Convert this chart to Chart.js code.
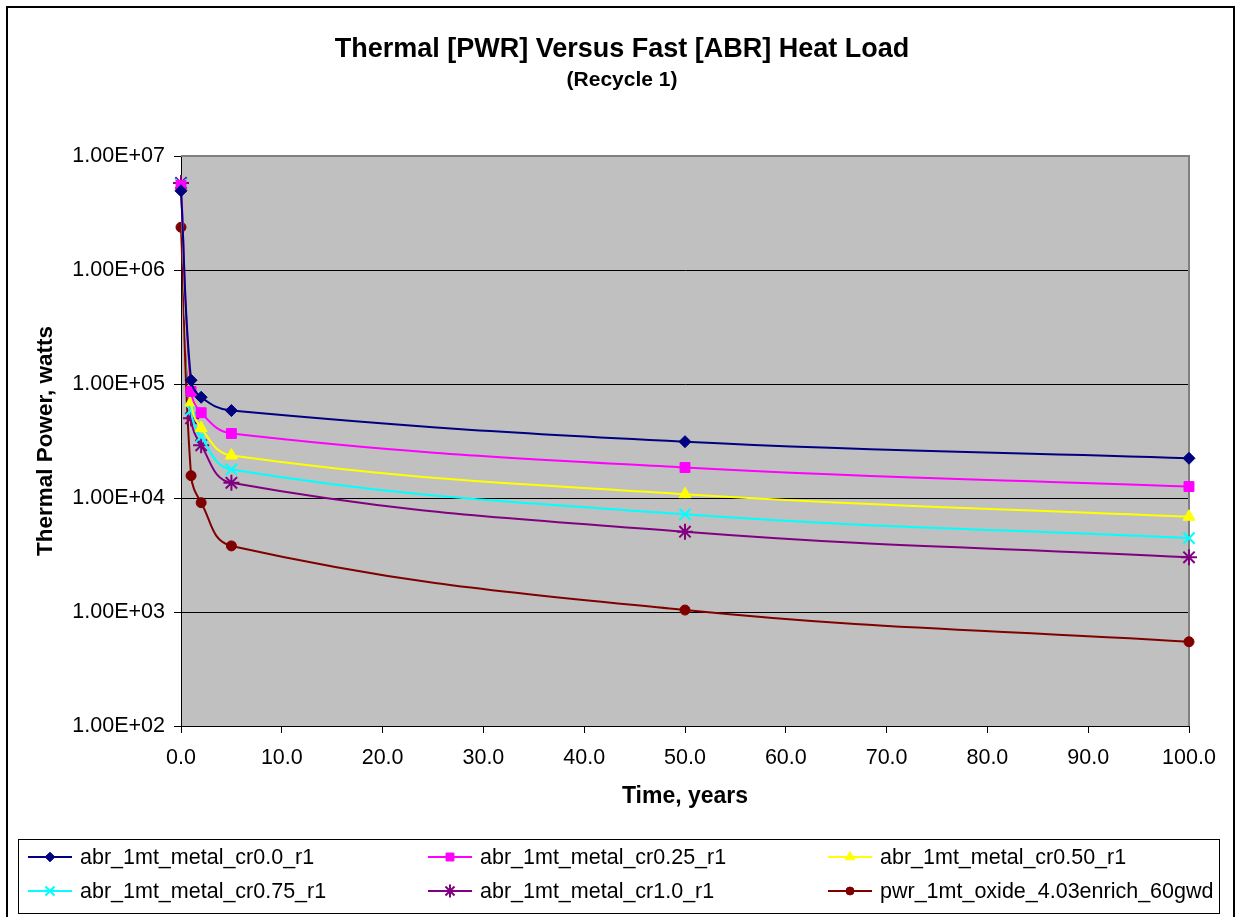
<!DOCTYPE html>
<html><head><meta charset="utf-8">
<script src="https://cdn.jsdelivr.net/npm/chart.js@4.4.1/dist/chart.umd.min.js"></script>
<style>html,body{margin:0;padding:0;background:#fff;overflow:hidden}#wrap{position:relative;width:1236px;height:917px}</style>
</head><body><div id="wrap"><canvas id="c" width="1236" height="917"></canvas></div>
<script>
const FONT = "'Liberation Sans', Arial, sans-serif";
const titleText = 'Thermal [PWR] Versus Fast [ABR] Heat Load';
const subtitleText = '(Recycle 1)';
const xTitle = 'Time, years';
const yTitle = 'Thermal Power, watts';
const years = [0, 1, 2, 5, 50, 100];
const seriesNames = ['abr_1mt_metal_cr0.0_r1', 'abr_1mt_metal_cr0.25_r1', 'abr_1mt_metal_cr0.50_r1',
  'abr_1mt_metal_cr0.75_r1', 'abr_1mt_metal_cr1.0_r1', 'pwr_1mt_oxide_4.03enrich_60gwd'];
const cr00 = [4.95e6, 1.08e5, 7.65e4, 5.85e4, 3.12e4, 2.23e4];
const cr025 = [5.5e6, 8.6e4, 5.6e4, 3.68e4, 1.85e4, 1.26e4];
const cr050 = [5.25e6, 6.9e4, 4.1e4, 2.36e4, 1.08e4, 6.85e3];
const cr075 = [5.6e6, 5.9e4, 3.45e4, 1.78e4, 7.2e3, 4.45e3];
const cr10 = [5.8e6, 5.0e4, 2.9e4, 1.36e4, 5.06e3, 3.02e3];
const pwr = [2.37e6, 1.57e4, 9.1e3, 3.8e3, 1.04e3, 548];
const xTicks = [0, 10, 20, 30, 40, 50, 60, 70, 80, 90, 100];
const yTicks = [1e2, 1e3, 1e4, 1e5, 1e6, 1e7];

const seriesValues = [cr00, cr025, cr050, cr075, cr10, pwr];
const colors = ['#000080', '#FF00FF', '#FFFF00', '#00FFFF', '#800080', '#800000'];
const styles = ['rectRot', 'rect', 'triangle', 'crossRot', 'star', 'circle'];
const radii = [6, 7, 7, 8, 8, 5];

function fmtE(v) {
  const e = Math.round(Math.log10(v));
  return '1.00E' + (e < 0 ? '-' : '+') + String(Math.abs(e)).padStart(2, '0');
}

const datasets = seriesValues.map((arr, i) => ({
  label: seriesNames[i],
  data: years.map((x, j) => ({ x: x, y: arr[j] })),
  borderColor: colors[i],
  backgroundColor: colors[i],
  pointBackgroundColor: colors[i],
  pointBorderColor: colors[i],
  pointStyle: styles[i],
  pointRadius: radii[i],
  pointBorderWidth: (styles[i] === 'crossRot' || styles[i] === 'star') ? 2 : 1,
  borderWidth: 2,
  tension: 0.4,
  fill: false,
  clip: { left: 9, right: 9, top: 9, bottom: 0 }
}));

const framePlugin = {
  id: 'frame',
  beforeDraw(chart) {
    const ctx = chart.ctx, a = chart.chartArea;
    ctx.save();
    ctx.fillStyle = '#fff';
    ctx.fillRect(0, 0, chart.width, chart.height);
    ctx.strokeStyle = '#000';
    ctx.lineWidth = 2;
    ctx.strokeRect(7, 7, 1227, 930);
    ctx.fillStyle = '#C0C0C0';
    ctx.fillRect(a.left, a.top, a.right - a.left, a.bottom - a.top);
    ctx.restore();
  },
  beforeDatasetsDraw(chart) {
    const ctx = chart.ctx, a = chart.chartArea;
    ctx.save();
    ctx.strokeStyle = '#808080';
    ctx.lineWidth = 2;
    ctx.beginPath();
    ctx.moveTo(a.left, a.top);
    ctx.lineTo(a.right, a.top);
    ctx.lineTo(a.right, a.bottom);
    ctx.stroke();
    ctx.restore();
  },
  afterDraw(chart) {
    const ctx = chart.ctx;
    ctx.save();
    ctx.strokeStyle = '#000';
    ctx.lineWidth = 1;
    ctx.strokeRect(18.5, 839.5, 1201, 74);
    const cols = [28, 428, 828], rows = [857, 891];
    chart.data.datasets.forEach((ds, i) => {
      const x = cols[i % 3], y = rows[Math.floor(i / 3)];
      ctx.strokeStyle = ds.borderColor;
      ctx.lineWidth = 2;
      ctx.beginPath();
      ctx.moveTo(x, y);
      ctx.lineTo(x + 44, y);
      ctx.stroke();
      ctx.fillStyle = ds.pointBackgroundColor;
      ctx.strokeStyle = ds.pointBorderColor;
      ctx.lineWidth = ds.pointBorderWidth;
      Chart.helpers.drawPoint(ctx, { pointStyle: ds.pointStyle, radius: ds.pointRadius * 0.8, rotation: 0, borderWidth: ds.pointBorderWidth }, x + 22, y);
      ctx.fillStyle = '#000';
      ctx.font = '21.5px ' + FONT;
      ctx.textBaseline = 'middle';
      ctx.textAlign = 'left';
      ctx.fillText(ds.label, x + 52, y + 1);
    });
    ctx.restore();
  }
};

new Chart(document.getElementById('c'), {
  type: 'line',
  data: { datasets: datasets },
  plugins: [framePlugin],
  options: {
    responsive: false,
    animation: false,
    devicePixelRatio: 1,
    layout: { padding: { left: 55, right: 47, top: 0, bottom: 103 } },
    plugins: {
      legend: { display: false },
      tooltip: { enabled: false },
      title: { display: true, text: titleText, color: '#000', font: { family: FONT, size: 27, weight: 'bold' }, padding: { top: 33.8, bottom: 0 } },
      subtitle: { display: true, text: subtitleText, color: '#000', font: { family: FONT, size: 21, weight: 'bold' }, padding: { top: 1.2, bottom: 63.4 } }
    },
    scales: {
      x: {
        type: 'linear', min: 0, max: 100,
        afterBuildTicks: s => { s.ticks = xTicks.map(v => ({ value: v })); },
        ticks: { callback: v => Number(v).toFixed(1), color: '#000', font: { family: FONT, size: 21.5 }, padding: 12, maxRotation: 0, autoSkip: false },
        grid: { drawOnChartArea: false, drawTicks: true, tickLength: 7, color: '#000', tickColor: '#000' },
        border: { display: true, color: '#000', width: 1 },
        title: { display: true, text: xTitle, color: '#000', font: { family: FONT, size: 23, weight: 'bold' }, padding: { top: 4, bottom: 4 } },
        afterFit: s => { s.height = 88; }
      },
      y: {
        type: 'logarithmic', min: 100, max: 1e7,
        afterBuildTicks: s => { s.ticks = yTicks.map(v => ({ value: v })); },
        ticks: { callback: v => fmtE(v), color: '#000', font: { family: FONT, size: 21.5 }, padding: 9, autoSkip: false },
        grid: { color: c => (c.tick && c.tick.value === 1e7) ? 'rgba(0,0,0,0)' : '#000', tickColor: '#000', tickLength: 7, lineWidth: 1 },
        border: { display: true, color: '#000', width: 1 },
        title: { display: true, text: yTitle, color: '#000', font: { family: FONT, size: 22.5, weight: 'bold' }, padding: { top: -22.5, bottom: 4 } },
        afterFit: s => { s.width = 126; }
      }
    }
  }
});
</script></body></html>
